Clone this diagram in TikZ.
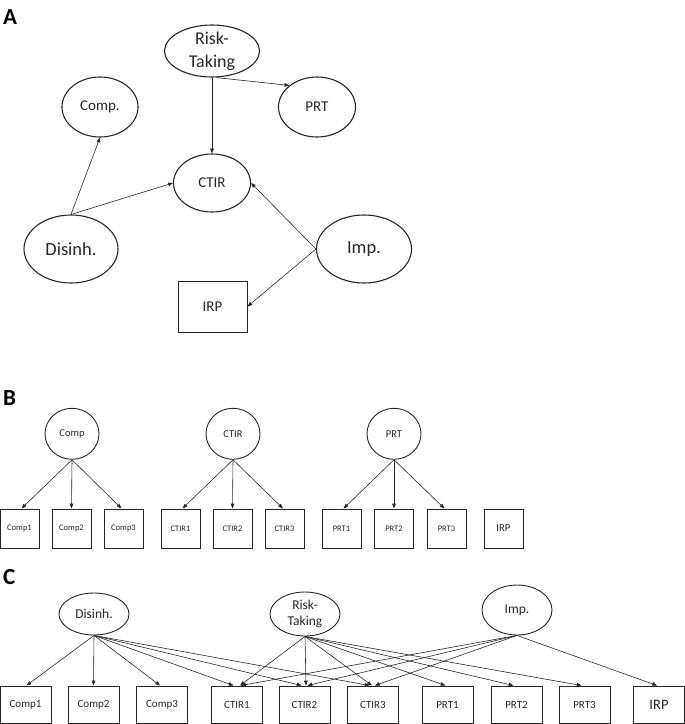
\documentclass[tikz,border=0pt]{standalone}
\usepackage{fontspec}
\setmainfont{Carlito}
\usetikzlibrary{shapes.geometric,arrows.meta}
\begin{document}
\begin{tikzpicture}[x=1pt,y=-1pt,
  lat/.style={ellipse,draw=black!85,line width=1.1pt,inner sep=0pt,align=center,text=black!85},
  obs/.style={rectangle,draw=black!85,line width=1pt,inner sep=0pt,align=center,text=black!85},
  arr/.style={-{Triangle[length=4.8pt,width=3.6pt]},line width=0.6pt,draw=black!85},
  plabel/.style={anchor=base west,inner sep=0pt,text=black,font=\fontsize{23}{23}\selectfont\bfseries},
  fA/.style={font=\fontsize{15}{18}\selectfont},
  fAbig/.style={font=\fontsize{18.5}{22}\selectfont},
  fBl/.style={font=\fontsize{10.5}{12}\selectfont},
  fBo/.style={font=\fontsize{8.5}{10}\selectfont},
  fCl/.style={font=\fontsize{13.5}{16}\selectfont},
  fCo/.style={font=\fontsize{11}{13}\selectfont},
  bbox/.style={obs,minimum width=39pt,minimum height=39pt,fBo},
  cbox/.style={obs,minimum width=51pt,minimum height=37pt,fCo}
]
\useasboundingbox (0,0) rectangle (685,724);

% ---------- Panel A ----------
\node[plabel] (labA) at (3,24) {A};
\node[lat,minimum width=95pt,minimum height=52pt,inner sep=-3pt,font=\fontsize{18}{23}\selectfont] (aRT) at (212,51) {Risk-\\Taking};
\node[lat,minimum width=76pt,minimum height=60pt,fA] (aComp) at (100,107) {Comp.};
\node[lat,minimum width=77pt,minimum height=60pt,fA] (aPRT) at (317,107) {PRT};
\node[lat,minimum width=77pt,minimum height=58pt,fA] (aCTIR) at (212,183) {CTIR};
\node[lat,minimum width=94pt,minimum height=68pt,fAbig] (aDis) at (71,249) {Disinh.};
\node[lat,minimum width=95pt,minimum height=68pt,fAbig] (aImp) at (364,249) {Imp.};
\node[obs,minimum width=69pt,minimum height=51pt,fA] (aIRP) at (212.5,306.5) {IRP};

\draw[arr] (aRT.south) -- (aCTIR.north);
\draw[arr] ([xshift=4pt]aRT.south) -- (aPRT.142);
\draw[arr] (aDis.north) -- (aComp.south);
\draw[arr] (aDis.north) -- (aCTIR.west);
\draw[arr] (aImp.west) -- (aCTIR.east);
\draw[arr] (aImp.west) -- (aIRP.east);

% ---------- Panel B ----------
\node[plabel] (labB) at (3,405.7) {B};
\node[lat,line width=0.9pt,minimum width=54pt,minimum height=51pt,fBl] (bComp) at (72,433.8) {Comp};
\node[lat,line width=0.9pt,minimum width=54pt,minimum height=51pt,fBl] (bCTIR) at (233,433.8) {CTIR};
\node[lat,line width=0.9pt,minimum width=54pt,minimum height=51pt,fBl] (bPRT) at (394,433.8) {PRT};

\node[bbox] (bC1) at (19.5,528.5) {Comp1};
\node[bbox] (bC2) at (71.5,528.5) {Comp2};
\node[bbox] (bC3) at (123.5,528.5) {Comp3};
\node[bbox] (bT1) at (180.5,528.5) {CTIR1};
\node[bbox] (bT2) at (232.5,528.5) {CTIR2};
\node[bbox] (bT3) at (284.5,528.5) {CTIR3};
\node[bbox] (bP1) at (341.5,528.5) {PRT1};
\node[bbox] (bP2) at (394,528.5) {PRT2};
\node[bbox] (bP3) at (446.5,528.5) {PRT3};
\node[bbox,font=\fontsize{10.7}{12}\selectfont] (bIRP) at (503.5,528.5) {IRP};

\draw[arr] (bComp.south) -- ([xshift=2pt]bC1.north);
\draw[arr] (bComp.south) -- (bC2.north);
\draw[arr] (bComp.south) -- ([xshift=-2pt]bC3.north);
\draw[arr] (bCTIR.south) -- ([xshift=2pt]bT1.north);
\draw[arr] (bCTIR.south) -- (bT2.north);
\draw[arr] (bCTIR.south) -- ([xshift=-1.5pt]bT3.north);
\draw[arr] (bPRT.south) -- ([xshift=2pt]bP1.north);
\draw[arr] (bPRT.south) -- (bP2.north);
\draw[arr] (bPRT.south) -- ([xshift=-2pt]bP3.north);

% ---------- Panel C ----------
\node[plabel] (labC) at (3,584.5) {C};
\node[lat,line width=0.9pt,minimum width=70pt,minimum height=42pt,fCl] (cDis) at (94,614) {Disinh.};
\node[lat,line width=0.9pt,minimum width=70pt,minimum height=44pt,fCl] (cRT) at (305,614) {Risk-\\Taking};
\node[lat,line width=0.9pt,minimum width=70pt,minimum height=50pt,fCl] (cImp) at (517,610) {Imp.};

\node[cbox] (cC1) at (25.5,704.5) {Comp1};
\node[cbox] (cC2) at (93.5,704.5) {Comp2};
\node[cbox] (cC3) at (162,704.5) {Comp3};
\node[cbox] (cT1) at (237,704.5) {CTIR1};
\node[cbox] (cT2) at (304.5,704.5) {CTIR2};
\node[cbox] (cT3) at (373,704.5) {CTIR3};
\node[cbox] (cP1) at (447.5,704.5) {PRT1};
\node[cbox] (cP2) at (516.5,704.5) {PRT2};
\node[cbox] (cP3) at (584.5,704.5) {PRT3};
\node[cbox,font=\fontsize{14.5}{16}\selectfont] (cIRP) at (659,704.5) {IRP};

\draw[arr] (cDis.south) -- ([xshift=1pt]cC1.north);
\draw[arr] (cDis.south) -- (cC2.north);
\draw[arr] (cDis.south) -- ([xshift=-2pt]cC3.north);
\draw[arr] (cDis.south) -- ([xshift=-3.5pt]cT1.north);
\draw[arr] (cDis.south) -- ([xshift=-3pt]cT2.north);
\draw[arr] (cDis.south) -- ([xshift=-3.5pt]cT3.north);

\draw[arr] (cRT.south) -- ([xshift=3pt]cT1.north);
\draw[arr] (cRT.south) -- ([xshift=1.5pt]cT2.north);
\draw[arr] (cRT.south) -- ([xshift=-1pt]cT3.north);
\draw[arr] (cRT.south) -- ([xshift=-2pt]cP1.north);
\draw[arr] (cRT.south) -- ([xshift=-3pt]cP2.north);
\draw[arr] (cRT.south) -- ([xshift=-3pt]cP3.north);

\draw[arr] (cImp.south) -- ([xshift=4pt]cT1.north);
\draw[arr] (cImp.south) -- ([xshift=3pt]cT2.north);
\draw[arr] (cImp.south) -- ([xshift=2pt]cT3.north);
\draw[arr] (cImp.south) -- ([xshift=-2pt]cIRP.north);
\end{tikzpicture}
\end{document}
